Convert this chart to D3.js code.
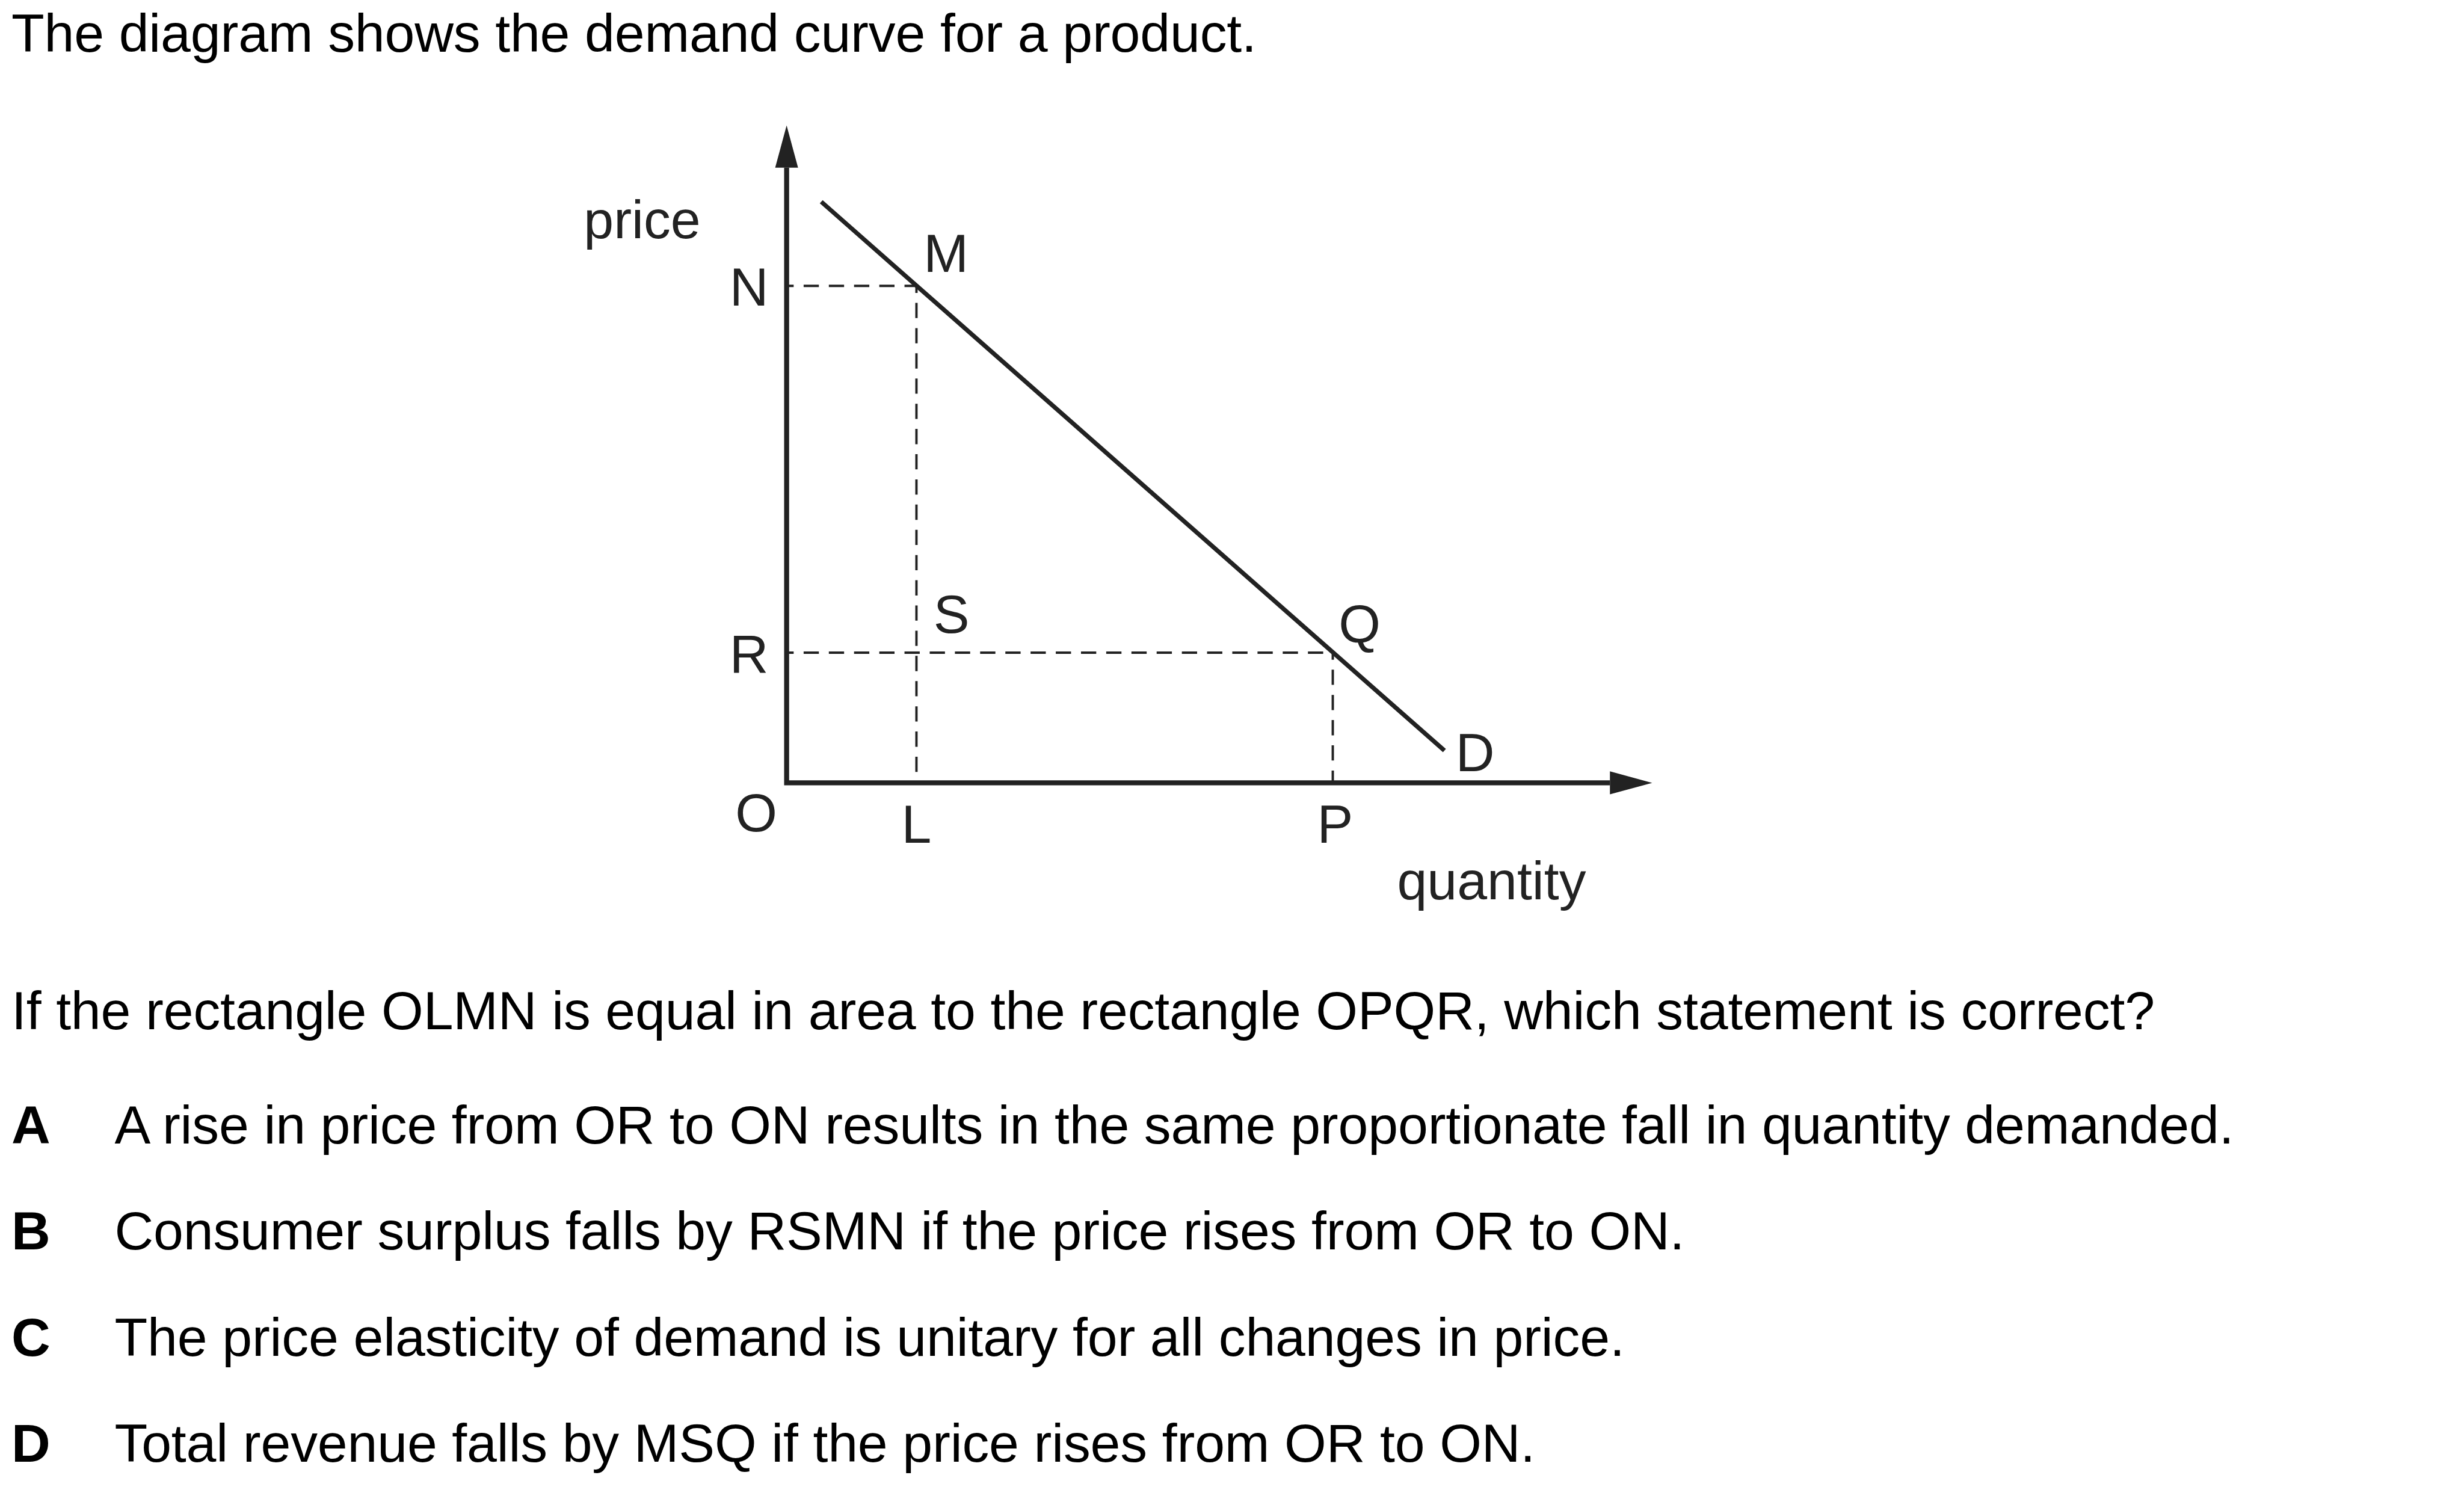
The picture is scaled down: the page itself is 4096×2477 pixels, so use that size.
<!DOCTYPE html>
<html>
<head>
<meta charset="utf-8">
<script src="https://cdn.jsdelivr.net/npm/d3@7"></script>
<style>
  html, body { margin: 0; padding: 0; background: #ffffff; }
  svg { display: block; }
</style>
</head>
<body>
<div id="chart"></div>
<script>
// ---------------- DATA ----------------
const titleText = "The diagram shows the demand curve for a product.";
const questionText = "If the rectangle OLMN is equal in area to the rectangle OPQR, which statement is correct?";
const optionLetters = ["A", "B", "C", "D"];
const optionTexts = [
  "A rise in price from OR to ON results in the same proportionate fall in quantity demanded.",
  "Consumer surplus falls by RSMN if the price rises from OR to ON.",
  "The price elasticity of demand is unitary for all changes in price.",
  "Total revenue falls by MSQ if the price rises from OR to ON."
];
const axisLabels = ["price", "quantity"];
const originLabel = "O";
const quantityMarks = ["L", "P"];
const quantityValues = [15.0, 63.1];
const priceMarks = ["N", "R"];
const priceValues = [75.6, 19.8];
const demandQuantity = [4.0, 76.0];
const demandPrice = [88.4, 4.9];
const demandLabel = "D";
const pointLabels = ["M", "S", "Q"];
const axisMax = [100, 100]; // quantity, price

// ---------------- LAYOUT ----------------
const W = 4201, H = 2541;
const svg = d3.select("#chart").append("svg")
  .attr("width", 4096).attr("height", 2477)
  .attr("viewBox", `0 0 ${W} ${H}`);

const FONT = "'Liberation Sans', Arial, Helvetica, sans-serif";
const FS = 92;
const LS = -0.18;
const INK = "#222222";

const x = d3.scaleLinear().domain([0, axisMax[0]]).range([1341, 2817]);
const y = d3.scaleLinear().domain([0, axisMax[1]]).range([1335, 214]);

// ---------------- TEXT ----------------
svg.append("text").attr("x", 19).attr("y", 88)
  .attr("font-family", FONT).attr("font-size", FS).attr("fill", "#000")
  .attr("letter-spacing", LS)
  .text(titleText);

svg.append("text").attr("x", 19).attr("y", 1755)
  .attr("font-family", FONT).attr("font-size", FS).attr("fill", "#000")
  .attr("letter-spacing", LS)
  .text(questionText);

const optY = d3.scaleLinear().domain([0, 3]).range([1950, 2493]);
const opts = svg.append("g");
opts.selectAll("text.letter").data(optionLetters).join("text")
  .attr("class", "letter")
  .attr("x", 19).attr("y", (d, i) => optY(i))
  .attr("font-family", FONT).attr("font-size", FS).attr("font-weight", "bold").attr("fill", "#000")
  .text(d => d);
opts.selectAll("text.opt").data(optionTexts).join("text")
  .attr("class", "opt")
  .attr("x", 195).attr("y", (d, i) => optY(i))
  .attr("font-family", FONT).attr("font-size", FS).attr("fill", "#000")
  .attr("letter-spacing", LS)
  .text(d => d);

// ---------------- DIAGRAM ----------------
const g = svg.append("g");
const line = d3.line().x(d => x(d[0])).y(d => y(d[1]));

// dashed guide lines
const dashStyle = sel => sel.attr("fill", "none").attr("stroke", INK)
  .attr("stroke-width", 4).attr("stroke-dasharray", "26 17").attr("stroke-dashoffset", 14);

const M = [quantityValues[0], priceValues[0]];
const Q = [quantityValues[1], priceValues[1]];
// horizontal lines from price axis
priceValues.forEach((p, i) => {
  g.append("path").call(dashStyle)
    .attr("d", line([[0, p], [quantityValues[i], p]]));
});
// vertical lines down to quantity axis
quantityValues.forEach((q, i) => {
  g.append("path").call(dashStyle)
    .attr("d", line([[q, priceValues[i]], [q, 0]]));
});

// axes
const arrowLen = 72, arrowHalf = 19.5;
g.append("path")
  .attr("d", `M${x(0)},${y(axisMax[1]) + arrowLen} L${x(0)},${y(0)} L${x(axisMax[0]) - arrowLen},${y(0)}`)
  .attr("fill", "none").attr("stroke", INK).attr("stroke-width", 8.5)
  .attr("stroke-linejoin", "miter").attr("stroke-linecap", "butt");
// arrowheads
g.append("path")
  .attr("d", `M${x(0)},${y(axisMax[1])} L${x(0) - arrowHalf},${y(axisMax[1]) + arrowLen} L${x(0) + arrowHalf},${y(axisMax[1]) + arrowLen} Z`)
  .attr("fill", INK);
g.append("path")
  .attr("d", `M${x(axisMax[0])},${y(0)} L${x(axisMax[0]) - arrowLen},${y(0) - arrowHalf} L${x(axisMax[0]) - arrowLen},${y(0) + arrowHalf} Z`)
  .attr("fill", INK);

// demand curve
const demand = demandQuantity.map((q, i) => [q, demandPrice[i]]);
g.append("path").attr("d", line(demand))
  .attr("fill", "none").attr("stroke", INK).attr("stroke-width", 7.5).attr("stroke-linecap", "butt");

// labels
const lab = (txt, px, py, anchor) => g.append("text")
  .attr("x", px).attr("y", py).attr("text-anchor", anchor || "start")
  .attr("font-family", FONT).attr("font-size", FS).attr("fill", INK).text(txt);

lab(axisLabels[0], 995, 406);
lab(axisLabels[1], 2382, 1534);
lab(originLabel, x(0) - 16, y(0) + 83, "end");
priceMarks.forEach((t, i) => lab(t, x(0) - 31, y(priceValues[i]) + 34, "end"));
quantityMarks.forEach((t, i) => lab(t, x(quantityValues[i]) + (i === 0 ? 0 : 4), y(0) + 102, "middle"));
lab(pointLabels[0], x(M[0]) + 12, y(M[1]) - 24);
lab(pointLabels[1], x(M[0]) + 29, y(Q[1]) - 34);
lab(pointLabels[2], x(Q[0]) + 10, y(Q[1]) - 17);
lab(demandLabel, x(demand[1][0]) + 19, y(demand[1][1]) + 35);
</script>
</body>
</html>
